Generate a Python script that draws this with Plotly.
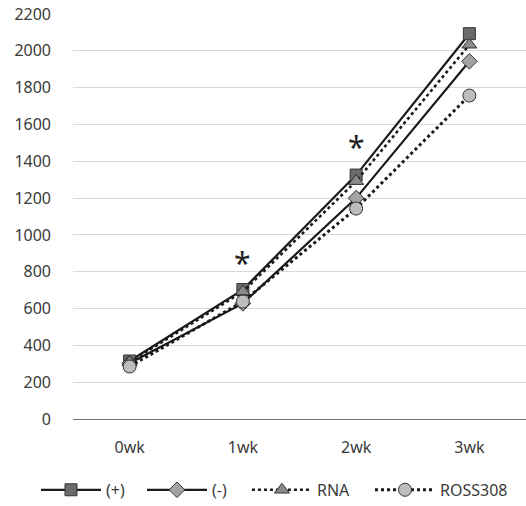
import plotly.graph_objects as go

weeks = ["0wk", "1wk", "2wk", "3wk"]
plus_vals = [315, 703, 1325, 2093]
minus_vals = [303, 628, 1200, 1943]
rna_vals = [308, 692, 1292, 2033]
ross_vals = [285, 638, 1143, 1757]
y_ticks = [0, 200, 400, 600, 800, 1000, 1200, 1400, 1600, 1800, 2000, 2200]
star_weeks = ["1wk", "2wk"]
star_heights = [850, 1480]

font_family = "Noto Sans, Open Sans, sans-serif"
txt_color = "#3a3a3a"
fig = go.Figure()

fig.add_trace(go.Scatter(
    x=weeks, y=plus_vals, name="(+)", mode="lines+markers", legend="legend",
    line=dict(color="#1a1a1a", width=2.2),
    marker=dict(symbol="square", size=12, color="#6b6b6b", line=dict(color="#333333", width=1)),
))
fig.add_trace(go.Scatter(
    x=weeks, y=minus_vals, name="(-)", mode="lines+markers", legend="legend2",
    line=dict(color="#1a1a1a", width=2.2),
    marker=dict(symbol="diamond", size=12, color="#a3a3a3", line=dict(color="#333333", width=1)),
))
fig.add_trace(go.Scatter(
    x=weeks, y=rna_vals, name="RNA", mode="lines+markers", legend="legend3",
    line=dict(color="#1a1a1a", width=2.6, dash="dot"),
    marker=dict(symbol="triangle-up", size=13, color="#8a8a8a", line=dict(color="#333333", width=1)),
))
fig.add_trace(go.Scatter(
    x=weeks, y=ross_vals, name="ROSS308", mode="lines+markers", legend="legend4",
    line=dict(color="#1a1a1a", width=3, dash="dot"),
    marker=dict(symbol="circle", size=13, color="#bdbdbd", line=dict(color="#333333", width=1)),
))

for w, h in zip(star_weeks, star_heights):
    fig.add_annotation(x=w, y=h, text="*", showarrow=False,
                       font=dict(size=30, color="#222222", family=font_family),
                       yanchor="middle")

def leg(xpos):
    return dict(orientation="h", x=xpos, xanchor="left", y=-0.175, yanchor="middle",
                font=dict(size=16, color=txt_color), itemwidth=60,
                bgcolor="rgba(0,0,0,0)")

fig.update_layout(
    width=526, height=506,
    margin=dict(l=73, r=0, t=14, b=87, autoexpand=False),
    paper_bgcolor="white", plot_bgcolor="white",
    font=dict(family=font_family, size=16, color=txt_color),
    showlegend=True,
    legend=leg(-0.0817),
    legend2=leg(0.1523),
    legend3=leg(0.384),
    legend4=leg(0.6556),
    xaxis=dict(
        type="category", range=[-0.5, 3.5], automargin=False,
        showgrid=False, showline=True, linecolor="#6f6f6f", linewidth=1,
        ticks="", ticklabelstandoff=14, tickfont=dict(size=16, color=txt_color),
        zeroline=False,
    ),
    yaxis=dict(
        range=[0, 2200], tickvals=y_ticks, automargin=False,
        showgrid=True, gridcolor="#d9d9d9", gridwidth=1,
        showline=False, zeroline=False, ticks="",
        ticklabelstandoff=21, tickfont=dict(size=16, color=txt_color),
    ),
)

fig.write_html("out.html", config={"displayModeBar": False},
               post_script="document.body.style.margin='0';document.body.style.padding='0';")
